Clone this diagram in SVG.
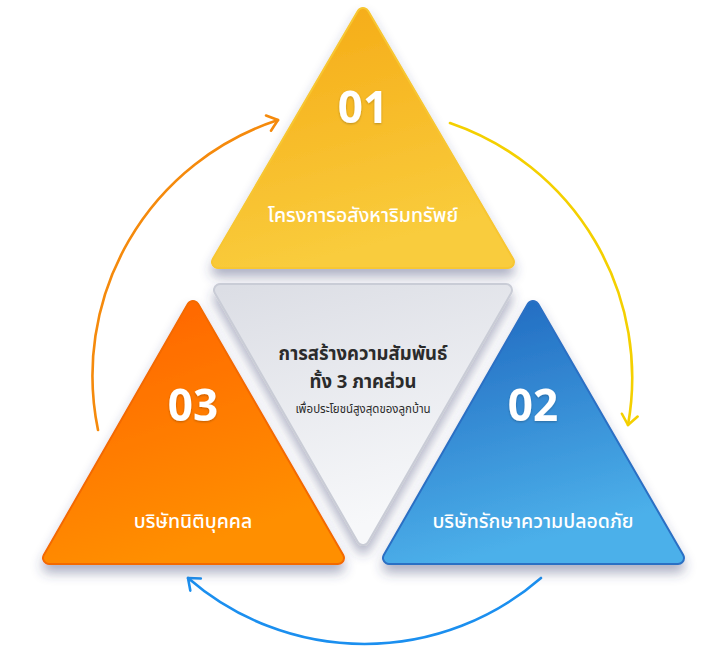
<svg xmlns="http://www.w3.org/2000/svg" width="713" height="658" viewBox="0 0 713 658">
<style>
.num{font-family:"Noto Sans Thai","Noto Sans","Open Sans",sans-serif;font-weight:700;font-size:44px;fill:#ffffff;text-anchor:middle}
.lbl{font-family:"Noto Sans Thai","Noto Sans","Open Sans",sans-serif;font-weight:500;font-size:19.5px;fill:#ffffff;text-anchor:middle}
.ctitle{font-family:"Noto Sans Thai","Noto Sans","Open Sans",sans-serif;font-weight:700;font-size:18.5px;fill:#2b2b2b;text-anchor:middle}
.csub{font-family:"Noto Sans Thai","Noto Sans","Open Sans",sans-serif;font-weight:400;font-size:11.5px;fill:#2b2b2b;text-anchor:middle}
.arc{fill:none;stroke-width:2.6;stroke-linecap:round}
.tri{stroke-linejoin:round}
</style>
<defs>
<linearGradient id="gY" x1="0" y1="0" x2="0.3" y2="1"><stop offset="0" stop-color="#F5AA15"/><stop offset="1" stop-color="#F9CC3C"/></linearGradient>
<linearGradient id="gO" x1="0" y1="0" x2="0.4" y2="1"><stop offset="0" stop-color="#FF6200"/><stop offset="1" stop-color="#FF8F00"/></linearGradient>
<linearGradient id="gB" x1="0" y1="0" x2="0.3" y2="1"><stop offset="0" stop-color="#1E66BE"/><stop offset="1" stop-color="#4CB0EA"/></linearGradient>
<linearGradient id="gC" x1="0" y1="0" x2="0.3" y2="1"><stop offset="0" stop-color="#DCDEE5"/><stop offset="1" stop-color="#F7F8FA"/></linearGradient>
<filter id="sh" x="-20%" y="-20%" width="140%" height="150%"><feDropShadow dx="0" dy="8" stdDeviation="6" flood-color="#34406e" flood-opacity="0.4"/></filter>
<filter id="ts" x="-20%" y="-20%" width="140%" height="150%"><feDropShadow dx="0" dy="1" stdDeviation="1.2" flood-color="#000" flood-opacity="0.25"/></filter>
<marker id="aO" markerUnits="userSpaceOnUse" markerWidth="30" markerHeight="30" refX="0" refY="0" viewBox="-15 -15 30 30" orient="auto"><path d="M-10,-8 L0,0 L-10,8" fill="none" stroke="#F58A0C" stroke-width="2.6" stroke-linecap="round" stroke-linejoin="round"/></marker>
<marker id="aY" markerUnits="userSpaceOnUse" markerWidth="30" markerHeight="30" refX="0" refY="0" viewBox="-15 -15 30 30" orient="auto"><path d="M-10,-8 L0,0 L-10,8" fill="none" stroke="#F4D000" stroke-width="2.6" stroke-linecap="round" stroke-linejoin="round"/></marker>
<marker id="aB" markerUnits="userSpaceOnUse" markerWidth="30" markerHeight="30" refX="0" refY="0" viewBox="-15 -15 30 30" orient="auto"><path d="M-10,-8 L0,0 L-10,8" fill="none" stroke="#1B8FEF" stroke-width="2.6" stroke-linecap="round" stroke-linejoin="round"/></marker>
</defs>
<rect width="713" height="658" fill="#ffffff"/>
<g id="connectors">
<path class="arc" d="M98,430 A269,269 0 0 1 278,120" stroke="#F58A0C" marker-end="url(#aO)"/>
<path class="arc" d="M450,123 A269,269 0 0 1 628,425" stroke="#F4D000" marker-end="url(#aY)"/>
<path class="arc" d="M541,578 A269,269 0 0 1 188,578" stroke="#1B8FEF" marker-end="url(#aB)"/>
</g>
<g id="node-01">
<g filter="url(#sh)">
<polygon class="tri" points="363,14 218,262 508,262" fill="#F7C630" stroke="#F7C630" stroke-width="14"/>
<polygon class="tri" points="363,14 218,262 508,262" fill="url(#gY)" stroke="url(#gY)" stroke-width="10"/>
</g>
<text class="num" x="363" y="123" filter="url(#ts)">01</text>
<text class="lbl" x="363" y="222">โครงการอสังหาริมทรัพย์</text>
</g>
<g id="node-03">
<g filter="url(#sh)">
<polygon class="tri" points="193,307 49,558 338,558" fill="#F36A00" stroke="#F36A00" stroke-width="14"/>
<polygon class="tri" points="193,307 49,558 338,558" fill="url(#gO)" stroke="url(#gO)" stroke-width="10"/>
</g>
<text class="num" x="193" y="421" filter="url(#ts)">03</text>
<text class="lbl" x="193" y="528">บริษัทนิติบุคคล</text>
</g>
<g id="node-02">
<g filter="url(#sh)">
<polygon class="tri" points="533,307 389,558 678,558" fill="#2B6FC4" stroke="#2B6FC4" stroke-width="14"/>
<polygon class="tri" points="533,307 389,558 678,558" fill="url(#gB)" stroke="url(#gB)" stroke-width="10"/>
</g>
<text class="num" x="533" y="421" filter="url(#ts)">02</text>
<text class="lbl" x="533" y="528">บริษัทรักษาความปลอดภัย</text>
</g>
<g id="node-center">
<g filter="url(#sh)">
<polygon class="tri" points="220,290 506,290 363,539" fill="#C9CCD6" stroke="#C9CCD6" stroke-width="14"/>
<polygon class="tri" points="220,290 506,290 363,539" fill="url(#gC)" stroke="url(#gC)" stroke-width="10"/>
</g>
<text class="ctitle" x="363" y="360">การสร้างความสัมพันธ์</text>
<text class="ctitle" x="363" y="388">ทั้ง 3 ภาคส่วน</text>
<text class="csub" x="363" y="413">เพื่อประโยชน์สูงสุดของลูกบ้าน</text>
</g>
</svg>
